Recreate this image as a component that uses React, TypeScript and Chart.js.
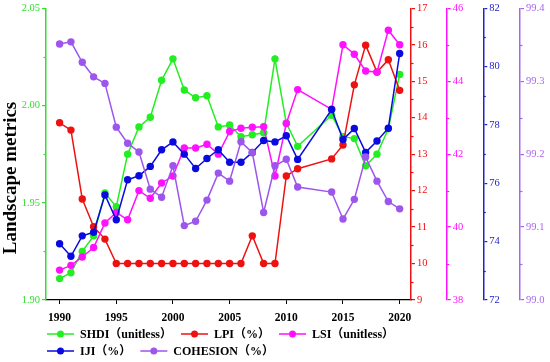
import React, { useEffect, useRef } from 'react';
import { Chart, registerables } from 'chart.js';

Chart.register(...registerables);

// ---------- data ----------
const years = [
  1990, 1991, 1992, 1993, 1994, 1995, 1996, 1997, 1998, 1999, 2000,
  2001, 2002, 2003, 2004, 2005, 2006, 2007, 2008, 2009, 2010, 2011,
  2014, 2015, 2016, 2017, 2018, 2019, 2020,
];

const shdi = [
  1.911, 1.914, 1.925, 1.933, 1.955, 1.948, 1.975, 1.989, 1.994, 2.013, 2.024,
  2.008, 2.004, 2.005, 1.989, 1.990, 1.984, 1.985, 1.986, 2.024, 1.991, 1.979,
  1.995, 1.984, 1.983, 1.969, 1.975, 1.988, 2.016,
];

const lpi = [
  13.86, 13.66, 11.77, 11.01, 10.67, 10.0, 10.0, 10.0, 10.0, 10.0, 10.0,
  10.0, 10.0, 10.0, 10.0, 10.0, 10.0, 10.76, 10.0, 10.0, 12.4, 12.6,
  12.87, 13.25, 14.9, 15.99, 15.25, 15.59, 14.75,
];

const lsi = [
  38.82, 38.95, 39.18, 39.44, 40.11, 40.4, 40.2, 41.0, 40.79, 41.21, 41.4,
  42.17, 42.17, 42.27, 42.0, 42.62, 42.71, 42.74, 42.75, 41.4, 42.84, 43.77,
  43.23, 45.0, 44.74, 44.28, 44.25, 45.4, 45.0,
];

const iji = [
  73.93, 73.5, 74.2, 74.32, 75.6, 74.75, 76.12, 76.26, 76.58, 77.15, 77.42,
  77.0, 76.51, 76.85, 77.15, 76.72, 76.72, 77.06, 77.47, 77.42, 77.63, 76.82,
  78.53, 77.5, 77.88, 77.06, 77.45, 77.89, 80.45,
];

const cohesion = [
  99.351, 99.354, 99.326, 99.306, 99.297, 99.237, 99.215, 99.203, 99.152, 99.141, 99.184,
  99.102, 99.108, 99.137, 99.174, 99.163, 99.217, 99.202, 99.12, 99.184, 99.193, 99.155,
  99.148, 99.111, 99.138, 99.196, 99.163, 99.135, 99.125,
];

const seriesLabels = ['SHDI（unitless）', 'LPI（%）', 'LSI（unitless）', 'IJI（%）', 'COHESION（%）'];

const xTicks = [1990, 1995, 2000, 2005, 2010, 2015, 2020];
const shdiTicks = [1.9, 1.95, 2.0, 2.05];
const lpiTicks = [9, 10, 11, 12, 13, 14, 15, 16, 17];
const lsiTicks = [38, 40, 42, 44, 46];
const ijiTicks = [72, 74, 76, 78, 80, 82];
const cohTicks = [99.0, 99.1, 99.2, 99.3, 99.4];

const shdiMinor = [1.925, 1.975, 2.025];
const lpiMinor = [9.5, 10.5, 11.5, 12.5, 13.5, 14.5, 15.5, 16.5];
const lsiMinor = [39, 41, 43, 45];
const ijiMinor = [73, 75, 77, 79, 81];
const cohMinor = [99.05, 99.15, 99.25, 99.35];

const yTitle = 'Landscape metrics';

// ---------- styles ----------
const FONT = "'Liberation Serif', 'Times New Roman', 'Noto Sans CJK SC', serif";
const C_GREEN = '#22ee22';
const C_GREEN_AX = '#33dd33';
const C_RED = '#ee1111';
const C_MAG = '#ff11ff';
const C_BLUE = '#0a0ae0';
const C_BLUE_AX = '#2222cc';
const C_PURPLE = '#9d55ee';
const C_PURPLE_AX = '#a866ee';

const seriesColors = [C_GREEN, C_RED, C_MAG, C_BLUE, C_PURPLE];

function pts(vals: number[]) {
  return years.map((x, i) => ({ x, y: vals[i] }));
}

function fixedTicks(list: number[]) {
  return (scale: any) => {
    scale.ticks = list.map((value) => ({ value }));
  };
}

function yAxis(
  position: 'left' | 'right',
  weight: number,
  min: number,
  max: number,
  ticks: number[],
  color: string,
  labelColor: string,
  width: number,
  digits: number,
) {
  return {
    type: 'linear',
    position,
    weight,
    min,
    max,
    afterBuildTicks: fixedTicks(ticks),
    afterFit: (s: any) => {
      s.width = width;
    },
    grid: {
      drawOnChartArea: false,
      drawTicks: true,
      tickLength: 4,
      color,
      lineWidth: 1.2,
    },
    border: { display: true, color, width: 1.5 },
    ticks: {
      color: labelColor,
      padding: 2,
      font: { family: FONT, size: 10.5 },
      callback: (v: number) => Number(v).toFixed(digits),
    },
  };
}

const minorTicksPlugin = {
  id: 'minorTicks',
  afterDraw(chart: any) {
    const ctx = chart.ctx;
    const defs: [string, number[], string, boolean][] = [
      ['y', shdiMinor, C_GREEN_AX, true],
      ['y1', lpiMinor, C_RED, false],
      ['y2', lsiMinor, C_MAG, false],
      ['y3', ijiMinor, C_BLUE_AX, false],
      ['y4', cohMinor, C_PURPLE_AX, false],
    ];
    ctx.save();
    ctx.lineWidth = 1.2;
    for (const [id, vals, color, left] of defs) {
      const s = chart.scales[id];
      if (!s) continue;
      ctx.strokeStyle = color;
      const bx = left ? s.right : s.left;
      for (const v of vals) {
        const py = Math.round(s.getPixelForValue(v)) + 0.5;
        ctx.beginPath();
        ctx.moveTo(bx, py);
        ctx.lineTo(left ? bx - 2.5 : bx + 2.5, py);
        ctx.stroke();
      }
    }
    ctx.restore();
  },
};

const titleLegendPlugin = {
  id: 'titleLegend',
  afterDraw(chart: any) {
    const ctx = chart.ctx;
    const area = chart.chartArea;
    ctx.save();
    // y-axis title
    ctx.translate(11, 178);
    ctx.rotate(-Math.PI / 2);
    ctx.font = `bold 19px ${FONT}`;
    ctx.fillStyle = '#000';
    ctx.textAlign = 'center';
    ctx.textBaseline = 'middle';
    ctx.fillText(yTitle, 0, 0);
    ctx.restore();

    // legend
    ctx.save();
    ctx.font = `bold 12px ${FONT}`;
    ctx.textBaseline = 'middle';
    ctx.textAlign = 'left';
    const startX = area.left + 1;
    const lineLen = 27;
    const textGap = 6;
    const itemGap = 9;
    let x = startX;
    let y = 334;
    chart.data.datasets.forEach((ds: any, i: number) => {
      const label = seriesLabels[i];
      const w = ctx.measureText(label).width;
      const itemW = lineLen + textGap + w;
      if (x !== startX && x + itemW > area.right) {
        x = startX;
        y += 17;
      }
      const col = seriesColors[i];
      ctx.strokeStyle = col;
      ctx.lineWidth = 1.5;
      ctx.beginPath();
      ctx.moveTo(x, y);
      ctx.lineTo(x + lineLen, y);
      ctx.stroke();
      ctx.fillStyle = col;
      ctx.beginPath();
      ctx.arc(x + lineLen / 2, y, 3.5, 0, Math.PI * 2);
      ctx.fill();
      ctx.fillStyle = '#000';
      ctx.fillText(label, x + lineLen + textGap, y + 0.5);
      x += itemW + itemGap;
    });
    ctx.restore();
  },
};

export default function App() {
  const ref = useRef<HTMLCanvasElement | null>(null);

  useEffect(() => {
    if (!ref.current) return;
    const mk = (i: number, vals: number[], axis: string, order: number) => ({
      label: seriesLabels[i],
      data: pts(vals),
      yAxisID: axis,
      borderColor: seriesColors[i],
      backgroundColor: seriesColors[i],
      pointBackgroundColor: seriesColors[i],
      pointBorderColor: seriesColors[i],
      pointBorderWidth: 0,
      pointRadius: 3.7,
      borderWidth: 1.5,
      tension: 0,
      order,
    });

    const chart = new Chart(ref.current, {
      type: 'line',
      data: {
        datasets: [
          mk(0, shdi, 'y', 5),
          mk(1, lpi, 'y1', 4),
          mk(2, lsi, 'y2', 3),
          mk(3, iji, 'y3', 2),
          mk(4, cohesion, 'y4', 1),
        ],
      },
      options: {
        responsive: false,
        animation: false,
        devicePixelRatio: 1,
        events: [],
        layout: { padding: { top: 8, left: 0, right: 0, bottom: 0 } },
        plugins: {
          legend: { display: false },
          tooltip: { enabled: false },
          title: { display: false },
        },
        scales: {
          x: {
            type: 'linear',
            position: 'bottom',
            min: 1988.8,
            max: 2021.0,
            afterBuildTicks: fixedTicks(xTicks),
            afterFit: (s: any) => {
              s.height = 62;
            },
            grid: {
              drawOnChartArea: false,
              drawTicks: true,
              tickLength: 4,
              color: '#000',
              lineWidth: 1,
            },
            border: { display: true, color: '#000', width: 1.2 },
            ticks: {
              color: '#000',
              padding: 7,
              maxRotation: 0,
              font: { family: FONT, size: 11.5, weight: 'bold' },
              callback: (v: number) => String(v),
            },
          },
          y: yAxis('left', 0, 1.9, 2.05, shdiTicks, C_GREEN_AX, C_GREEN_AX, 46, 2),
          y1: yAxis('right', 0, 9, 17, lpiTicks, C_RED, C_RED, 35.7, 0),
          y2: yAxis('right', 1, 38, 46, lsiTicks, C_MAG, C_MAG, 36.6, 0),
          y3: yAxis('right', 2, 72, 82, ijiTicks, C_BLUE_AX, C_BLUE_AX, 36.7, 0),
          y4: yAxis('right', 3, 99.0, 99.4, cohTicks, C_PURPLE_AX, C_PURPLE_AX, 30, 1),
        } as any,
      },
      plugins: [minorTicksPlugin, titleLegendPlugin],
    } as any);

    return () => chart.destroy();
  }, []);

  return (
    <div style={{ position: 'absolute', left: 0, top: 0, width: 550, height: 362, background: '#fff' }}>
      <canvas ref={ref} width={550} height={362} style={{ display: 'block' }} />
    </div>
  );
}
